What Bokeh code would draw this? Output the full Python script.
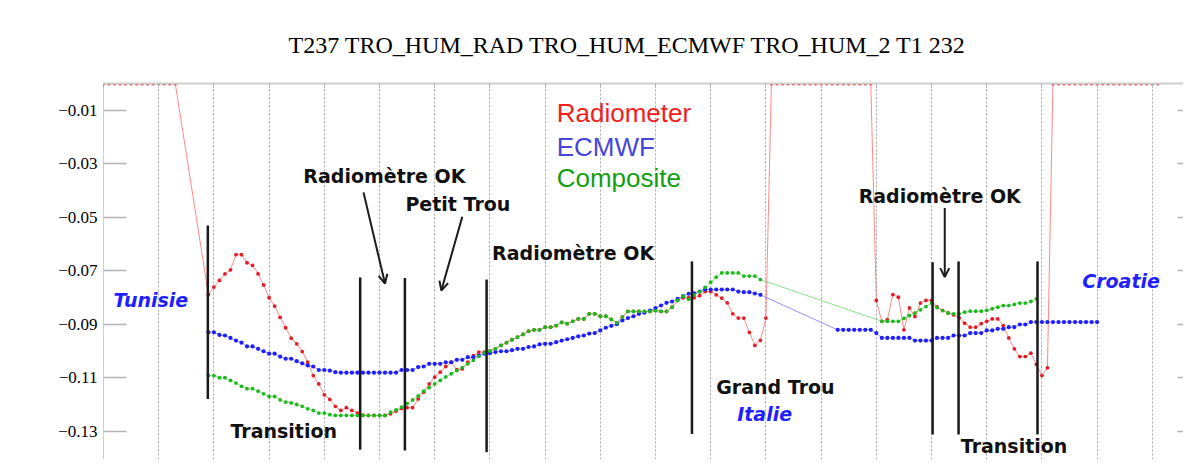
from bokeh.plotting import figure
from bokeh.models import (Range1d, FixedTicker, LinearAxis, Label, Arrow, OpenHead,
                          CustomJSTickFormatter, ColumnDataSource)
from bokeh.embed import file_html
from bokeh.resources import INLINE

# ---------------- data ----------------
title_text = "T237 TRO_HUM_RAD TRO_HUM_ECMWF TRO_HUM_2 T1 232"
y_ticks = [-0.13, -0.11, -0.09, -0.07, -0.05, -0.03, -0.01]
x_grid = list(range(0, 200, 10))

radiometer_x = list(range(0, 14)) + list(range(19, 192))
radiometer_y = (
    [0.0] * 14
    + [-0.0789, -0.0761, -0.0736, -0.0712, -0.0697, -0.0640, -0.0640, -0.0670, -0.0680, -0.0712,
       -0.0753, -0.0801, -0.0832, -0.0874, -0.0913, -0.0952, -0.0973, -0.1002, -0.1042, -0.1092,
       -0.1123, -0.1164, -0.1181]
    + [-0.1207, -0.1222, -0.1212, -0.1222, -0.1232, -0.1240, -0.1241, -0.1241, -0.1241, -0.1241,
       -0.1235, -0.1225, -0.1215, -0.1212, -0.1212, -0.1179, -0.1154, -0.1123, -0.1098, -0.1079,
       -0.1058, -0.1042, -0.1070, -0.1067, -0.1042, -0.1017, -0.1004, -0.1004, -0.1000]
    + [-0.0992, -0.0979, -0.0969, -0.0958, -0.0948, -0.0938, -0.0926, -0.0921, -0.0921, -0.0911,
       -0.0911, -0.0905, -0.0893, -0.0898, -0.0889, -0.0880, -0.0880, -0.0861, -0.0861, -0.0870,
       -0.0870, -0.0882, -0.0895, -0.0873, -0.0852, -0.0852, -0.0852, -0.0852, -0.0852, -0.0849,
       -0.0852, -0.0852, -0.0836, -0.0811, -0.0801]
    + [-0.0801, -0.0801, -0.0793, -0.0778, -0.0778, -0.0790, -0.0802, -0.0820, -0.0861, -0.0877,
       -0.0877, -0.0930, -0.0979, -0.0960, -0.0877]
    + [0.0] * 19
    + [-0.0811, -0.0889, -0.0883, -0.0789, -0.0799, -0.0921, -0.0839, -0.0871, -0.0821, -0.0811,
       -0.0811, -0.0835, -0.0848, -0.0858, -0.0865, -0.0876, -0.0896, -0.0911, -0.0911, -0.0898,
       -0.0889, -0.0880, -0.0880, -0.0905, -0.0951, -0.0992, -0.1021, -0.1021, -0.1008, -0.1050,
       -0.1092, -0.1063]
    + [0.0] * 20
)

ecmwf_x = list(range(19, 120)) + list(range(133, 181))
ecmwf_y = (
    [-0.0930, -0.0930, -0.0940, -0.0942, -0.0951, -0.0961, -0.0969, -0.0983, -0.0983, -0.0992,
     -0.1001, -0.1010, -0.1010, -0.1021, -0.1029, -0.1029, -0.1038, -0.1046, -0.1054, -0.1058,
     -0.1071, -0.1071, -0.1073, -0.1079]
    + [-0.1081] * 11
    + [-0.1071, -0.1071, -0.1071, -0.1060, -0.1058, -0.1048, -0.1048, -0.1048, -0.1042, -0.1042,
       -0.1033, -0.1033, -0.1023, -0.1023, -0.1017, -0.1010, -0.1008]
    + [-0.1004, -0.1001, -0.1001, -0.0997, -0.0992, -0.0992, -0.0985, -0.0983, -0.0975, -0.0973,
       -0.0973, -0.0967, -0.0961, -0.0956, -0.0951, -0.0945, -0.0942, -0.0935, -0.0933, -0.0923,
       -0.0913, -0.0906, -0.0900, -0.0886, -0.0877, -0.0870, -0.0861, -0.0857, -0.0849, -0.0840,
       -0.0830, -0.0820, -0.0815, -0.0805, -0.0795, -0.0786, -0.0784, -0.0778, -0.0770, -0.0770,
       -0.0770, -0.0770, -0.0770, -0.0770, -0.0778, -0.0780, -0.0780, -0.0785, -0.0790]
    + [-0.0921] * 7 + [-0.0933] + [-0.0951] * 6 + [-0.0961] * 4 + [-0.0951] * 3
    + [-0.0942] * 3 + [-0.0933] * 3 + [-0.0923] * 2 + [-0.0917] * 2 + [-0.0911] * 2
    + [-0.0901] * 2 + [-0.0892] * 13
)

composite_x = list(range(19, 120)) + list(range(141, 170))
composite_y = (
    [-0.1092, -0.1092, -0.1100, -0.1100, -0.1110, -0.1120, -0.1132, -0.1141, -0.1141, -0.1150,
     -0.1160, -0.1170, -0.1170, -0.1183, -0.1191, -0.1194, -0.1200, -0.1207, -0.1216, -0.1222,
     -0.1232, -0.1232, -0.1238]
    + [-0.1241] * 10
    + [-0.1229, -0.1220, -0.1210, -0.1197, -0.1183, -0.1168, -0.1150, -0.1137, -0.1123, -0.1110,
       -0.1097, -0.1085, -0.1073, -0.1062, -0.1048, -0.1035, -0.1020, -0.1007, -0.1000]
    + [-0.0992, -0.0979, -0.0969, -0.0958, -0.0948, -0.0938, -0.0926, -0.0921, -0.0921, -0.0911,
       -0.0911, -0.0905, -0.0893, -0.0898, -0.0889, -0.0880, -0.0880, -0.0861, -0.0861, -0.0870,
       -0.0870, -0.0882, -0.0895, -0.0873, -0.0852, -0.0852, -0.0852, -0.0852, -0.0852, -0.0849,
       -0.0852, -0.0852, -0.0836, -0.0811, -0.0795]
    + [-0.0807, -0.0790, -0.0778, -0.0762, -0.0743, -0.0724, -0.0708, -0.0708, -0.0708, -0.0708,
       -0.0720, -0.0720, -0.0720, -0.0733]
    + [-0.0889, -0.0889, -0.0889, -0.0889, -0.0878, -0.0868, -0.0858, -0.0846, -0.0834, -0.0821,
       -0.0838, -0.0849, -0.0858, -0.0861, -0.0861, -0.0855, -0.0851, -0.0851, -0.0851, -0.0848,
       -0.0842, -0.0836, -0.0830, -0.0830, -0.0826, -0.0821, -0.0821, -0.0815, -0.0805]
)

# event markers (vertical bars): position, top, bottom
marker_x = [18.9, 46.5, 54.6, 69.4, 106.6, 150.2, 154.9, 169.2]
marker_top = [-0.0531, -0.0725, -0.0727, -0.0733, -0.0665, -0.0668, -0.0665, -0.0665]
marker_bottom = [-0.1179, -0.1369, -0.1372, -0.1378, -0.1310, -0.1312, -0.1312, -0.1312]

notes_text = ["Radiomètre OK", "Petit Trou", "Radiomètre OK", "Radiomètre OK",
              "Transition", "Transition", "Grand Trou"]
notes_x = [36.2, 54.7, 70.4, 136.8, 23.0, 155.3, 111.0]
notes_y = [-0.0347, -0.0449, -0.0633, -0.0419, -0.1300, -0.1357, -0.1133]

places_text = ["Tunisie", "Italie", "Croatie"]
places_x = [1.8, 114.8, 177.3]
places_y = [-0.0809, -0.1237, -0.0740]

legend_text = ["Radiometer", "ECMWF", "Composite"]
legend_colors = ["#f41c1c", "#4646dc", "#129e12"]
legend_x = 82.1
legend_y = [-0.0112, -0.0236, -0.0352]

arrows = [  # x_start, y_start, x_end, y_end
    (47.1, -0.0407, 51.0, -0.0748),
    (65.0, -0.0498, 61.2, -0.0774),
    (152.4, -0.0465, 152.4, -0.0724),
]

# ---------------- figure ----------------
p = figure(width=1183, height=459, output_backend="svg", toolbar_location=None,
           x_range=Range1d(0, 195.65), y_range=Range1d(-0.14056, 0.0),
           x_axis_location="above",
           min_border_left=103, min_border_right=0, min_border_bottom=0, min_border_top=83)
p.outline_line_color = None
p.background_fill_color = "white"
p.border_fill_color = "white"

p.title.text = title_text
p.title.text_font = "Liberation Serif"
p.title.text_font_size = "24px"
p.title.text_font_style = "normal"
p.title.text_color = "black"
p.title.align = "left"
p.title.offset = 185
p.title.standoff = 52

# top axis (ticks only)
xa = p.xaxis[0]
xa.ticker = FixedTicker(ticks=x_grid)
xa.formatter = CustomJSTickFormatter(code="return '';")
xa.major_label_text_font_size = "0px"
xa.major_label_standoff = 0
xa.major_tick_in = 4
xa.major_tick_out = 0
xa.major_tick_line_color = "#b0b0b0"
xa.minor_tick_line_color = None
xa.axis_line_color = "#cfcfcf"
xa.axis_line_width = 2

# left axis
ya = p.yaxis[0]
ya.ticker = FixedTicker(ticks=y_ticks)
ya.formatter = CustomJSTickFormatter(code="return '\\u2212' + Math.abs(tick).toFixed(2);")
ya.major_label_text_font = "Liberation Serif"
ya.major_label_text_font_size = "17px"
ya.major_label_text_color = "black"
ya.major_label_standoff = 6
ya.major_tick_in = 23
ya.major_tick_out = 0
ya.major_tick_line_color = "#b4b4b4"
ya.major_tick_line_width = 1.5
ya.minor_tick_line_color = None
ya.axis_line_color = "#9a9a9a"
ya.axis_line_dash = "1 1"

# right axis (ticks only)
ra = LinearAxis(ticker=FixedTicker(ticks=y_ticks),
                formatter=CustomJSTickFormatter(code="return '';"),
                major_label_text_font_size="0px", major_label_standoff=0,
                major_tick_in=6, major_tick_out=0, major_tick_line_color="#b4b4b4",
                major_tick_line_width=1.5, minor_tick_line_color=None, axis_line_color=None)
p.add_layout(ra, "right")

p.xgrid.grid_line_color = "#a8a8a8"
p.xgrid.grid_line_dash = "2 2"
p.xgrid.grid_line_width = 1
p.ygrid.visible = False

# series
series = [
    (radiometer_x, radiometer_y, "#ff3b3b", "#e01e28", 3.8),
    (ecmwf_x, ecmwf_y, "#4a4aff", "#1e1eff", 4.2),
    (composite_x, composite_y, "#3ccf3c", "#1fb81f", 3.8),
]
for xs, ys, lc, dc, sz in series:
    src = ColumnDataSource(dict(x=xs, y=ys))
    p.line("x", "y", source=src, line_color=lc, line_width=1, line_alpha=0.6)
    p.scatter("x", "y", source=src, size=sz, marker="circle", color=dc, line_width=0)

# event bars
p.segment(x0=marker_x, y0=marker_top, x1=marker_x, y1=marker_bottom,
          line_color="#1a1a1a", line_width=2.5)

for xs, ys, xe, ye in arrows:
    p.add_layout(Arrow(end=OpenHead(size=9, line_color="#1a1a1a", line_width=2),
                       x_start=xs, y_start=ys, x_end=xe, y_end=ye,
                       line_color="#1a1a1a", line_width=2))

for t, x, y in zip(notes_text, notes_x, notes_y):
    p.add_layout(Label(x=x, y=y, text=t, text_font="DejaVu Sans", text_font_style="bold",
                       text_font_size="19px", text_color="#111111",
                       text_align="left", text_baseline="middle"))

for t, x, y in zip(places_text, places_x, places_y):
    p.add_layout(Label(x=x, y=y, text=t, text_font="DejaVu Sans", text_font_style="bold italic",
                       text_font_size="19px", text_color="#1f1fff",
                       text_align="left", text_baseline="middle"))

for t, c, y in zip(legend_text, legend_colors, legend_y):
    p.add_layout(Label(x=legend_x, y=y, text=t, text_font="Liberation Sans",
                       text_font_size="26px", text_color=c,
                       text_align="left", text_baseline="middle"))

open("out.html", "w").write(file_html(p, INLINE))
